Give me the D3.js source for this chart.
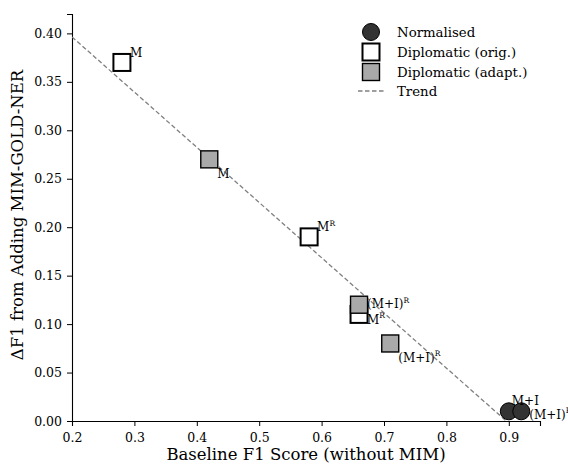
<!DOCTYPE html>
<html>
<head>
<meta charset="utf-8">
<script src="https://cdn.jsdelivr.net/npm/d3@7"></script>
<style>
  body { margin: 0; background: #fff; }
  svg { font-family: "DejaVu Serif", serif; display: block; }
</style>
</head>
<body>
<div id="chart"></div>
<script>
// data
const groups = ['Normalised', 'Diplomatic (orig.)', 'Diplomatic (adapt.)'];
const pointGroup = [1, 1, 1, 2, 2, 2, 0, 0];
const baselineF1 = [0.28, 0.58, 0.66, 0.42, 0.66, 0.71, 0.90, 0.92];
const deltaF1 = [0.37, 0.19, 0.11, 0.27, 0.12, 0.08, 0.01, 0.01];
const labelBase = ['M', 'M', 'M', 'M', '(M+I)', '(M+I)', 'M+I', '(M+I)'];
const labelSup = ['', 'R', 'R', '', 'R', 'R', '', 'R'];
const xTicks = [0.2, 0.3, 0.4, 0.5, 0.6, 0.7, 0.8, 0.9];
const yTicks = [0, 0.05, 0.10, 0.15, 0.20, 0.25, 0.30, 0.35, 0.40];

// label placement (pixel offsets from each point)
const labelDx = [8, 8, 8, 8, 8, 8, 3, 8];
const labelDy = [-9, -9, 6, 15, 0, 15, -10, 4];

const width = 568, height = 465;
const margin = {top: 14, right: 28, bottom: 44, left: 72};

const svg = d3.select('#chart').append('svg')
  .attr('width', width)
  .attr('height', height);

const x = d3.scaleLinear().domain([0.2, 0.95]).range([margin.left, width - margin.right]);
const y = d3.scaleLinear().domain([0, 0.42]).range([height - margin.bottom, margin.top]);

// axes
const xAxis = svg.append('g')
  .attr('transform', 'translate(0,' + y(0) + ')')
  .call(d3.axisBottom(x).tickValues(xTicks).tickFormat(d3.format('.1f')).tickSize(5).tickPadding(7));
const yAxis = svg.append('g')
  .attr('transform', 'translate(' + x(0.2) + ',0)')
  .call(d3.axisLeft(y).tickValues(yTicks).tickFormat(d3.format('.2f')).tickSize(5).tickPadding(5));

[xAxis, yAxis].forEach(function(a) {
  a.selectAll('text').style('font-family', '"DejaVu Serif", serif').style('font-size', '12.5px').attr('fill', '#000');
  a.select('.domain').attr('stroke', '#000').attr('stroke-width', 1.1);
  a.selectAll('.tick line').attr('stroke', '#000').attr('stroke-width', 1);
});

svg.append('text')
  .attr('x', (x(0.2) + x(0.95)) / 2)
  .attr('y', 460)
  .attr('text-anchor', 'middle')
  .style('font-size', '16.5px')
  .text('Baseline F1 Score (without MIM)');

svg.append('text')
  .attr('transform', 'translate(23,215) rotate(-90)')
  .attr('text-anchor', 'middle')
  .style('font-size', '16.5px')
  .text('ΔF1 from Adding MIM-GOLD-NER');

// trend line: least squares fit over all points
const meanX = d3.mean(baselineF1), meanY = d3.mean(deltaF1);
const sxy = d3.sum(baselineF1, (v, i) => (v - meanX) * (deltaF1[i] - meanY));
const sxx = d3.sum(baselineF1, v => (v - meanX) * (v - meanX));
const slope = sxy / sxx, intercept = meanY - slope * meanX;
const trendX = [0.2, 0.9];

svg.append('defs').append('clipPath').attr('id', 'plot-clip')
  .append('rect')
  .attr('x', x(0.2)).attr('y', 0)
  .attr('width', x(0.95) - x(0.2)).attr('height', y(0));

svg.append('line')
  .attr('clip-path', 'url(#plot-clip)')
  .attr('x1', x(trendX[0])).attr('y1', y(slope * trendX[0] + intercept))
  .attr('x2', x(trendX[1])).attr('y2', y(slope * trendX[1] + intercept))
  .attr('stroke', '#808080')
  .attr('stroke-width', 1.3)
  .attr('stroke-dasharray', '4.5,2.5');

// markers
const fills = ['#333333', '#ffffff', '#a9a9a9'];
const strokeW = [1, 2, 1.4];

function drawMarker(g, gi, cx, cy) {
  if (gi === 0) {
    g.append('circle').attr('cx', cx).attr('cy', cy).attr('r', 8.5)
      .attr('fill', fills[gi]).attr('stroke', '#000').attr('stroke-width', strokeW[gi]);
  } else {
    g.append('rect').attr('x', cx - 8.5).attr('y', cy - 8.5)
      .attr('width', 17).attr('height', 17)
      .attr('fill', fills[gi]).attr('stroke', '#000').attr('stroke-width', strokeW[gi]);
  }
}

const marks = svg.append('g');
// draw in order so adapted squares sit above the orig ones
[1, 2, 0].forEach(function(gi) {
  baselineF1.forEach(function(v, i) {
    if (pointGroup[i] === gi) drawMarker(marks, gi, x(v), y(deltaF1[i]));
  });
});

// point labels
baselineF1.forEach(function(v, i) {
  const t = svg.append('text')
    .attr('x', x(v) + labelDx[i])
    .attr('y', y(deltaF1[i]) + labelDy[i])
    .style('font-size', '12px')
    .attr('dominant-baseline', 'middle')
    .text(labelBase[i]);
  if (labelSup[i]) {
    t.append('tspan').attr('dy', -4).style('font-size', '7.5px').text(labelSup[i]);
  }
});

// legend
const legend = svg.append('g');
const legendY = [32, 52, 72];
groups.forEach(function(name, gi) {
  drawMarker(legend, gi, 371, legendY[gi]);
  legend.append('text').attr('x', 397).attr('y', legendY[gi] + 4.5)
    .style('font-size', '13.3px').text(name);
});
legend.append('line')
  .attr('x1', 358).attr('x2', 385).attr('y1', 91).attr('y2', 91)
  .attr('stroke', '#808080').attr('stroke-width', 1.3).attr('stroke-dasharray', '4.5,2.5');
legend.append('text').attr('x', 397).attr('y', 95.5).style('font-size', '13.3px').text('Trend');
</script>
</body>
</html>
